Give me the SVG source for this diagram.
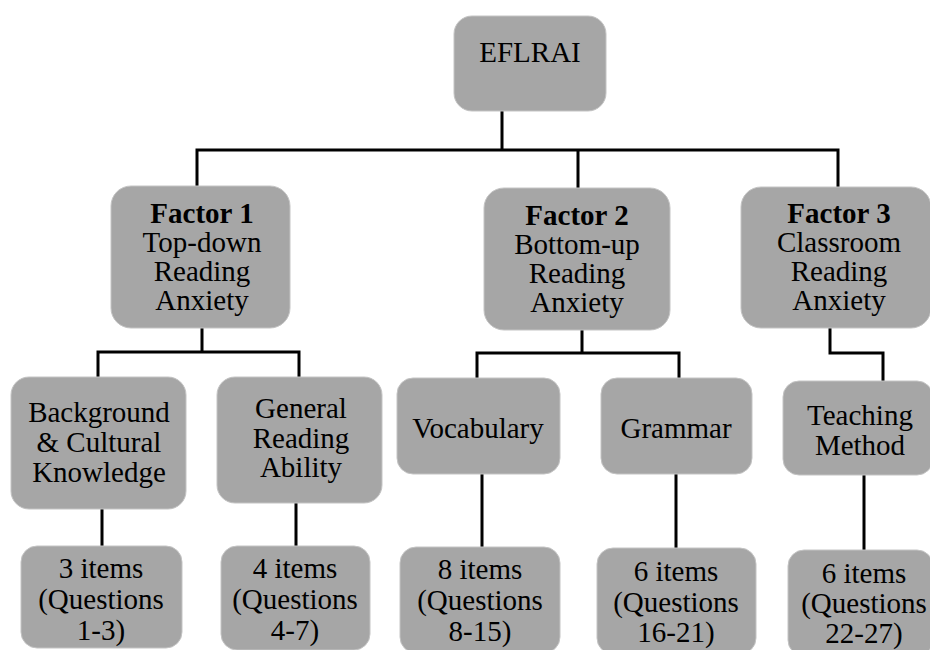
<svg xmlns="http://www.w3.org/2000/svg" width="930" height="650" viewBox="0 0 930 650">
<style>
.box{fill:#a6a6a6;stroke:#c4c4c4;stroke-width:1}
.t{font-family:"Liberation Serif","Times New Roman",serif;font-size:29px;fill:#000;text-anchor:middle}
.b{font-weight:bold}
.c{fill:none;stroke:#000;stroke-width:3;stroke-linejoin:miter;stroke-linecap:butt}
</style>
<rect width="930" height="650" fill="#fff"/>
<g id="connectors">
<path class="c" d="M502 111V150M197 186V150H838V187M578 150V188"/>
<path class="c" d="M202 328V352M98 377V352H299V377"/>
<path class="c" d="M582 330V353M477 378V353H679V378"/>
<path class="c" d="M830 328V353H883V381"/>
<path class="c" d="M102 509V546M296 503V546M482 474V547M676 474V548M864 475V550"/>
</g>
<g id="eflrai">
<rect class="box" x="454" y="16" width="152" height="95" rx="18"/>
<text class="t" x="530" y="62">EFLRAI</text>
</g>
<g id="factor1">
<rect class="box" x="111" y="186" width="179" height="142" rx="20"/>
<text class="t"><tspan class="b" x="202" y="223">Factor 1</tspan><tspan x="202" y="252">Top-down</tspan><tspan x="202" y="281">Reading</tspan><tspan x="202" y="310">Anxiety</tspan></text>
</g>
<g id="factor2">
<rect class="box" x="484" y="188" width="186" height="142" rx="20"/>
<text class="t"><tspan class="b" x="577" y="225">Factor 2</tspan><tspan x="577" y="254">Bottom-up</tspan><tspan x="577" y="283">Reading</tspan><tspan x="577" y="312">Anxiety</tspan></text>
</g>
<g id="factor3">
<rect class="box" x="741" y="187" width="190" height="141" rx="20"/>
<text class="t"><tspan class="b" x="839" y="223">Factor 3</tspan><tspan x="839" y="252">Classroom</tspan><tspan x="839" y="281">Reading</tspan><tspan x="839" y="310">Anxiety</tspan></text>
</g>
<g id="background">
<rect class="box" x="11" y="377" width="175" height="132" rx="18"/>
<text class="t"><tspan x="99" y="422">Background</tspan><tspan x="99" y="452">&amp; Cultural</tspan><tspan x="99" y="482">Knowledge</tspan></text>
</g>
<g id="general">
<rect class="box" x="217" y="377" width="165" height="126" rx="18"/>
<text class="t"><tspan x="301" y="418">General</tspan><tspan x="301" y="448">Reading</tspan><tspan x="301" y="477">Ability</tspan></text>
</g>
<g id="vocabulary">
<rect class="box" x="397" y="378" width="163" height="96" rx="16"/>
<text class="t" x="478" y="438">Vocabulary</text>
</g>
<g id="grammar">
<rect class="box" x="601" y="378" width="151" height="96" rx="16"/>
<text class="t" x="676" y="438">Grammar</text>
</g>
<g id="teaching">
<rect class="box" x="783" y="381" width="150" height="94" rx="16"/>
<text class="t"><tspan x="860" y="425">Teaching</tspan><tspan x="860" y="455">Method</tspan></text>
</g>
<g id="items3">
<rect class="box" x="21" y="546" width="161" height="102" rx="16"/>
<text class="t"><tspan x="101" y="578">3 items</tspan><tspan x="101" y="609">(Questions</tspan><tspan x="101" y="640">1-3)</tspan></text>
</g>
<g id="items4">
<rect class="box" x="221" y="546" width="149" height="104" rx="16"/>
<text class="t"><tspan x="295" y="578">4 items</tspan><tspan x="295" y="609">(Questions</tspan><tspan x="295" y="640">4-7)</tspan></text>
</g>
<g id="items8">
<rect class="box" x="400" y="547" width="160" height="106" rx="16"/>
<text class="t"><tspan x="480" y="579">8 items</tspan><tspan x="480" y="610">(Questions</tspan><tspan x="480" y="641">8-15)</tspan></text>
</g>
<g id="items6a">
<rect class="box" x="597" y="548" width="159" height="106" rx="16"/>
<text class="t"><tspan x="676" y="581">6 items</tspan><tspan x="676" y="612">(Questions</tspan><tspan x="676" y="642">16-21)</tspan></text>
</g>
<g id="items6b">
<rect class="box" x="788" y="550" width="145" height="106" rx="16"/>
<text class="t"><tspan x="864" y="583">6 items</tspan><tspan x="864" y="613">(Questions</tspan><tspan x="864" y="643">22-27)</tspan></text>
</g>
</svg>
